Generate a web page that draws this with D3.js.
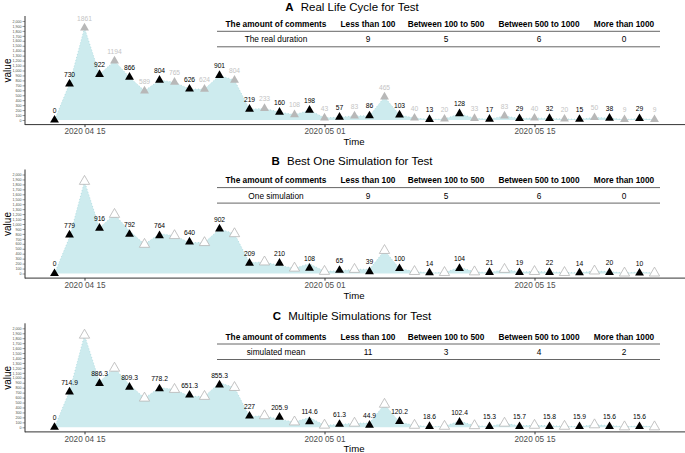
<!DOCTYPE html>
<html><head><meta charset="utf-8">
<script src="https://cdn.jsdelivr.net/npm/d3@7"></script>
<style>
html,body{margin:0;padding:0;background:#fff;}
svg{display:block;font-family:"Liberation Sans",Arial,sans-serif;}
</style></head>
<body><svg id="chart" width="685" height="453"></svg>
<script>
// ---------- DATA ----------
const dates = ["2020-04-13","2020-04-14","2020-04-15","2020-04-16","2020-04-17","2020-04-18","2020-04-19","2020-04-20","2020-04-21","2020-04-22","2020-04-23","2020-04-24","2020-04-25","2020-04-26","2020-04-27","2020-04-28","2020-04-29","2020-04-30","2020-05-01","2020-05-02","2020-05-03","2020-05-04","2020-05-05","2020-05-06","2020-05-07","2020-05-08","2020-05-09","2020-05-10","2020-05-11","2020-05-12","2020-05-13","2020-05-14","2020-05-15","2020-05-16","2020-05-17","2020-05-18","2020-05-19","2020-05-20","2020-05-21","2020-05-22","2020-05-23"];
const realValues = [0,730,1861,922,1194,866,589,804,765,626,624,901,804,219,233,160,108,198,43,57,83,86,465,103,40,13,20,128,33,17,83,29,40,32,20,15,50,38,9,29,9];
// indices (into dates) of the test points (black triangles)
const testIdx = [0,1,3,5,7,9,11,13,15,17,19,21,23,25,27,29,31,33,35,37,39];
const simOneValues = [0,779,916,792,764,640,902,209,210,108,65,39,100,14,104,21,19,22,14,20,10];
const simMeanValues = [0,714.9,886.3,809.3,778.2,651.3,855.3,227,205.9,114.6,61.3,44.9,120.2,18.6,102.4,15.3,15.7,15.8,15.9,15.6,15.6];
const panelLetters = ["A","B","C"];
const panelTitles = ["Real Life Cycle for Test","Best One Simulation for Test","Multiple Simulations for Test"];
const tableHeader = ["The amount of comments","Less than 100","Between 100 to 500","Between 500 to 1000","More than 1000"];
const tableRowLabels = ["The real duration","One simulation","simulated mean"];
const tableRowValues = [[9,5,6,0],[9,5,6,0],[11,3,4,2]];
const xTickDates = ["2020-04-15","2020-05-01","2020-05-15"];
const yTicks = d3.range(0,2001,100);

// ---------- LAYOUT ----------
const svg = d3.select("#chart");
const parse = d3.utcParse("%Y-%m-%d");
const fmtTick = d3.utcFormat("%Y %m %d");
const D = dates.map(parse);
const x = d3.scaleUtc()
  .domain([d3.utcDay.offset(D[0],-2), d3.utcDay.offset(D[D.length-1],2)])
  .range([24.5,684.5]);

const plotDY = [0,153.5,307.3];
const titleY = [7,160.5,316];
const tableY = [24,180.3,336.7];
const panelSeries = [realValues.filter((v,i)=>testIdx.includes(i)), simOneValues, simMeanValues];
const fmtLabel = v => String(v);

panelSeries.forEach((testVals,p)=>{
  const g = svg.append("g").attr("transform",`translate(0,${plotDY[p]})`);
  const y = d3.scaleLinear().domain([-100,2100]).range([124.95,16.05]);

  // area of real data
  const pts = realValues.map((v,i)=>({d:D[i],v}));
  g.append("path").datum(pts)
    .attr("fill","#cdebee")
    .attr("d",d3.area().x(d=>x(d.d)).y0(y(0)).y1(d=>y(d.v)));
  g.append("path").datum(pts)
    .attr("fill","none").attr("stroke","#a9d9de").attr("stroke-width",0.8)
    .attr("stroke-dasharray","1,2")
    .attr("d",d3.line().x(d=>x(d.d)).y(d=>y(d.v)));

  // axes
  const yAx = g.append("g").attr("transform","translate(25,0)")
    .call(d3.axisLeft(y).tickValues(yTicks).tickSize(2.5).tickPadding(1));
  yAx.select(".domain").attr("stroke","#333").attr("stroke-width",1).attr("d","M0,16V125");
  yAx.selectAll(".tick line").attr("stroke","#333").attr("stroke-width",0.5);
  yAx.selectAll(".tick text").attr("font-size",3.6).attr("fill","#4d4d4d").attr("font-family","Liberation Sans, Arial, sans-serif");

  const xAx = g.append("g").attr("transform","translate(0,124.6)")
    .call(d3.axisBottom(x).tickValues(xTickDates.map(parse)).tickFormat(fmtTick).tickSize(2.5).tickPadding(1.5));
  xAx.select(".domain").attr("stroke","#333").attr("stroke-width",1).attr("d","M25,0H685");
  xAx.selectAll(".tick line").attr("stroke","#333");
  xAx.selectAll(".tick text").attr("font-size",8.2).attr("fill","#4d4d4d").attr("font-family","Liberation Sans, Arial, sans-serif");

  g.append("text").attr("x",354).attr("y",145.2).attr("text-anchor","middle")
    .attr("font-size",9.6).attr("fill","#000").text("Time");
  g.append("text").attr("transform","translate(11,70.5) rotate(-90)").attr("text-anchor","middle")
    .attr("font-size",10).attr("fill","#000").text("value");

  // other (non-test) points
  const other = realValues.map((v,i)=>({d:D[i],v,i})).filter(o=>!testIdx.includes(o.i));
  if(p===0){
    g.selectAll(".oth").data(other).join("path")
      .attr("transform",d=>`translate(${x(d.d)},${y(d.v)})`)
      .attr("d",d3.symbol(d3.symbolTriangle,34)())
      .attr("fill","#b8b8b8");
    g.selectAll(".othl").data(other).join("text")
      .attr("x",d=>x(d.d)).attr("y",d=>y(d.v)-7.3).attr("text-anchor","middle")
      .attr("font-size",6.7).attr("fill","#c4c4c4").text(d=>fmtLabel(d.v));
  } else {
    g.selectAll(".oth").data(other).join("path")
      .attr("transform",d=>`translate(${x(d.d)},${y(d.v)})`)
      .attr("d",d3.symbol(d3.symbolTriangle,46)())
      .attr("fill","#fff").attr("stroke","#b5b5b5").attr("stroke-width",0.8);
  }
  // test points
  const test = testVals.map((v,k)=>({d:D[testIdx[k]],v}));
  g.selectAll(".tst").data(test).join("path")
    .attr("transform",d=>`translate(${x(d.d)},${y(d.v)})`)
    .attr("d",d3.symbol(d3.symbolTriangle,34)())
    .attr("fill","#000");
  g.selectAll(".tstl").data(test).join("text")
    .attr("x",d=>x(d.d)).attr("y",d=>y(d.v)-7.3).attr("text-anchor","middle")
    .attr("font-size",6.7).attr("fill","#000").text(d=>fmtLabel(d.v));

  // title
  const t = svg.append("text").attr("x",352).attr("y",titleY[p]+4).attr("text-anchor","middle")
    .attr("font-size",11.5).attr("fill","#000");
  t.append("tspan").attr("font-weight","bold").text(panelLetters[p]);
  t.append("tspan").attr("dx",4).text(" "+panelTitles[p]);

  // table
  const colX = [276,368,446,539,624];
  const ty = tableY[p];
  const tg = svg.append("g");
  tableHeader.forEach((h,c)=>{
    tg.append("text").attr("x",colX[c]).attr("y",ty+3).attr("text-anchor","middle")
      .attr("font-size",8.3).attr("font-weight","bold").attr("fill","#000").text(h);
  });
  tg.append("line").attr("x1",217).attr("x2",660).attr("y1",ty+7.3).attr("y2",ty+7.3).attr("stroke","#666").attr("stroke-width",1);
  const row = [tableRowLabels[p]].concat(tableRowValues[p]);
  row.forEach((h,c)=>{
    tg.append("text").attr("x",colX[c]).attr("y",ty+18.3).attr("text-anchor","middle")
      .attr("font-size",8.3).attr("fill","#000").text(h);
  });
  tg.append("line").attr("x1",217).attr("x2",660).attr("y1",ty+22.8).attr("y2",ty+22.8).attr("stroke","#666").attr("stroke-width",1);
});
</script></body></html>
